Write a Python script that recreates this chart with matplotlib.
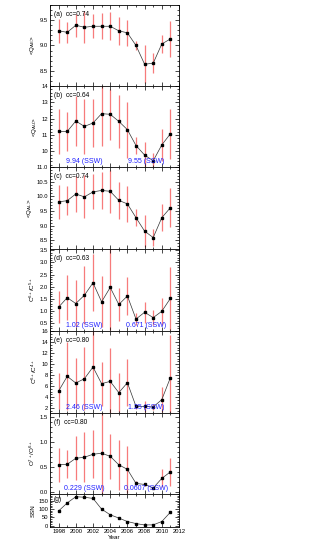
import matplotlib
matplotlib.use("Agg")
import matplotlib.pyplot as plt
from matplotlib.ticker import MultipleLocator, AutoMinorLocator
import numpy as np

years = list(range(1998, 2012))

qa = [9.29, 9.26, 9.40, 9.36, 9.38, 9.38, 9.38, 9.29, 9.25, 9.00, 8.63, 8.65, 9.03, 9.13]
qa_err = [0.24, 0.21, 0.23, 0.32, 0.24, 0.26, 0.28, 0.28, 0.26, 0.08, 0.38, 0.20, 0.18, 0.36]

qb = [11.22, 11.22, 11.86, 11.53, 11.74, 12.31, 12.27, 11.84, 11.33, 10.36, 9.78, 9.43, 10.40, 11.08]
qb_err = [1.35, 1.17, 1.50, 1.66, 1.45, 1.95, 1.57, 1.62, 1.70, 0.50, 0.78, 0.47, 0.96, 1.52]

qc = [9.81, 9.85, 10.08, 9.98, 10.15, 10.20, 10.17, 9.86, 9.74, 9.27, 8.81, 8.59, 9.27, 9.61]
qc_err = [0.58, 0.50, 0.60, 0.73, 0.60, 0.62, 0.73, 0.64, 0.62, 0.30, 0.54, 0.30, 0.47, 0.66]

cd = [1.16, 1.55, 1.31, 1.65, 2.16, 1.38, 1.97, 1.27, 1.62, 0.67, 0.95, 0.73, 0.99, 1.52]
cd_err = [0.66, 0.93, 0.96, 1.20, 1.17, 1.05, 1.76, 0.67, 0.78, 0.23, 0.44, 0.32, 0.55, 1.30]

ce = [5.09, 7.76, 6.55, 7.33, 9.45, 6.43, 6.85, 4.80, 6.60, 2.30, 2.30, 2.20, 3.53, 7.53]
ce_err = [3.3, 6.2, 4.6, 5.7, 6.5, 4.0, 6.0, 3.5, 4.3, 0.5, 1.0, 0.6, 2.3, 7.7]

of = [0.55, 0.56, 0.68, 0.70, 0.76, 0.78, 0.72, 0.55, 0.46, 0.18, 0.16, 0.09, 0.28, 0.41]
of_err = [0.335, 0.28, 0.44, 0.50, 0.48, 0.82, 0.45, 0.50, 0.47, 0.04, 0.03, 0.02, 0.18, 0.28]

ssn = [88.3, 136.3, 173.9, 170.4, 163.6, 99.3, 65.3, 45.8, 24.7, 12.6, 4.2, 4.8, 24.9, 80.8]

labels = ["(a)  cc=0.74", "(b)  cc=0.64", "(c)  cc=0.74", "(d)  cc=0.63",
          "(e)  cc=0.80", "(f)  cc=0.80", "(g)"]
ylabels = [r"<Q$_{AE}$>", r"<Q$_{AU}$>", r"<Q$_{AL}$>", r"C$^{6+}$/C$^{5+}$",
           r"C$^{6+}$/C$^{4+}$", r"O$^{7+}$/O$^{6+}$", "SSN"]
ssw_texts = [None, ("9.94 (SSW)", "9.55 (SSW)"), None, ("1.02 (SSW)", "0.671 (SSW)"),
             ("2.46 (SSW)", "1.25 (SSW)"), ("0.229 (SSW)", "0.0607 (SSW)"), None]

ylims = [(8.2, 9.8), (9.05, 14.0), (8.2, 11.0), (0.18, 3.55), (1.1, 16.0), (-0.03, 1.58), (-8, 190)]
ymaj = [0.5, 1.0, 0.5, 0.5, 2.0, 0.5, 50]
ymin_n = [5, 5, 5, 5, 4, 5, 5]

plt.rcParams['font.family'] = ['Liberation Sans', 'DejaVu Sans']
plt.rcParams['mathtext.fontset'] = 'custom'
plt.rcParams['mathtext.rm'] = 'Liberation Sans'
plt.rcParams['mathtext.it'] = 'Liberation Sans'

W, H = 327, 544
fig = plt.figure(figsize=(W / 100, H / 100), dpi=100)

x0, x1 = 50, 179
panel_px = [(5, 86), (86, 167), (167, 249), (249, 331), (331, 413), (413, 494), (494, 527)]

series = [(qa, qa_err), (qb, qb_err), (qc, qc_err), (cd, cd_err), (ce, ce_err), (of, of_err), (ssn, None)]

for i, ((top, bot), (vals, errs)) in enumerate(zip(panel_px, series)):
    ax = fig.add_axes([x0 / W, 1 - bot / H, (x1 - x0) / W, (bot - top) / H])
    if errs is not None:
        ax.errorbar(years, vals, yerr=errs, fmt='none', ecolor='#f77b7b', elinewidth=0.9,
                    capsize=0, zorder=1)
    ax.plot(years, vals, color='#333333', lw=0.5, marker='s', ms=2.0,
            mfc='black', mec='black', zorder=3)
    ax.set_xlim(1997, 2012)
    ax.set_ylim(*ylims[i])
    ax.xaxis.set_major_locator(MultipleLocator(2))
    ax.xaxis.set_minor_locator(MultipleLocator(1))
    ax.yaxis.set_major_locator(MultipleLocator(ymaj[i]))
    ax.yaxis.set_minor_locator(AutoMinorLocator(ymin_n[i]))
    ax.tick_params(which='both', direction='in', top=True, right=True, labelsize=4.2,
                   width=0.5, pad=1.5)
    ax.tick_params(which='major', length=3)
    ax.tick_params(which='minor', length=1.5)
    for s in ax.spines.values():
        s.set_linewidth(0.6)
    if i < 6:
        ax.tick_params(labelbottom=False)
    else:
        ax.set_xlabel("Year", fontsize=4.5, labelpad=1)
    ax.set_ylabel(ylabels[i], fontsize=4.5, labelpad=2)
    ax.text(0.03, 0.93, labels[i], transform=ax.transAxes, fontsize=4.8, va='top', ha='left')
    if ssw_texts[i]:
        t1, t2 = ssw_texts[i]
        ax.text(2001, 0.02, t1, transform=ax.get_xaxis_transform(), color='#2020ff',
                fontsize=5, ha='center', va='bottom')
        ax.text(2008.2, 0.02, t2, transform=ax.get_xaxis_transform(), color='#2020ff',
                fontsize=5, ha='center', va='bottom')

fig.savefig("out.png", dpi=100)
